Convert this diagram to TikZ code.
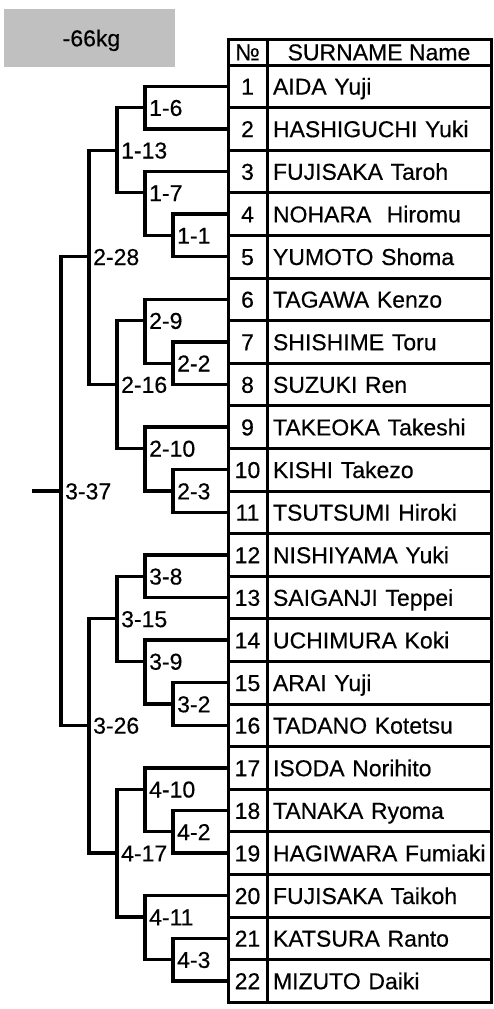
\documentclass[tikz,border=0pt]{standalone}
\usepackage{fontspec}
\setmainfont[UprightFeatures={FakeBold=0.4}]{Liberation Sans}
\definecolor{boxgray}{HTML}{C0C0C0}
\begin{document}
\begin{tikzpicture}[x=1pt,y=-1pt,
  font=\fontsize{23}{25}\selectfont,
  ln/.style={line width=3.3pt},
  cellbox/.style={draw,line width=3pt,inner sep=0pt,outer sep=0pt,text height=16.6pt,text depth=0pt},
  numcell/.style={cellbox,minimum width=39pt,minimum height=42.6pt},
  namecell/.style={cellbox,minimum width=224pt,minimum height=42.6pt,text width=212pt,inner xsep=6pt,align=left},
  lbl/.style={anchor=west,inner xsep=4pt,inner ysep=0pt,text height=16.6pt,text depth=0pt}]
\useasboundingbox (0,0) rectangle (494,1009);
\node[fill=boxgray,minimum width=171pt,minimum height=58pt,inner sep=0pt,text height=16.6pt,text depth=0pt] (title) at (89.5,38) {\hspace{4pt}-66kg};
\begin{scope}[y=-21.3pt,yshift=-65pt]
  % header
  \node[cellbox,minimum width=39pt,minimum height=26pt] (hno) at (247.5,-0.61) {№};
  \node[cellbox,minimum width=224pt,minimum height=26pt] (hname) at (379,-0.61) {SURNAME Name};
  % rows
  \foreach \nm [count=\i] in {AIDA Yuji,HASHIGUCHI Yuki,FUJISAKA Taroh,NOHARA\ \ Hiromu,YUMOTO Shoma,TAGAWA Kenzo,SHISHIME Toru,SUZUKI Ren,TAKEOKA Takeshi,KISHI Takezo,TSUTSUMI Hiroki,NISHIYAMA Yuki,SAIGANJI Teppei,UCHIMURA Koki,ARAI Yuji,TADANO Kotetsu,ISODA Norihito,TANAKA Ryoma,HAGIWARA Fumiaki,FUJISAKA Taikoh,KATSURA Ranto,MIZUTO Daiki}{
    \node[numcell] (n\i) at (247.5,{2*\i-1}) {\i};
    \node[namecell] (r\i) at (379,{2*\i-1}) {\mbox{\nm}};
  }
  % match coordinates
  \coordinate (c16) at (145,2);
  \coordinate (c11) at (173,8);
  \coordinate (c17) at (145,6);
  \coordinate (c113) at (117,4);
  \coordinate (c22) at (173,14);
  \coordinate (c29) at (145,12);
  \coordinate (c23) at (173,20);
  \coordinate (c210) at (145,18);
  \coordinate (c216) at (117,15);
  \coordinate (c228) at (89,9);
  \coordinate (c38) at (145,24);
  \coordinate (c32) at (173,30);
  \coordinate (c39) at (145,28);
  \coordinate (c315) at (117,26);
  \coordinate (c42) at (173,36);
  \coordinate (c410) at (145,34);
  \coordinate (c43) at (173,42);
  \coordinate (c411) at (145,40);
  \coordinate (c417) at (117,37);
  \coordinate (c326) at (89,31);
  \coordinate (c337) at (61,20);
  \coordinate (start) at (32,20);
  % brackets
  \draw[ln] (n1.west) -| (c16) |- (n2.west);
  \draw[ln] (n4.west) -| (c11) |- (n5.west);
  \draw[ln] (n3.west) -| (c17) |- (c11);
  \draw[ln] (c16) -| (c113) |- (c17);
  \draw[ln] (n7.west) -| (c22) |- (n8.west);
  \draw[ln] (n6.west) -| (c29) |- (c22);
  \draw[ln] (n10.west) -| (c23) |- (n11.west);
  \draw[ln] (n9.west) -| (c210) |- (c23);
  \draw[ln] (c29) -| (c216) |- (c210);
  \draw[ln] (c113) -| (c228) |- (c216);
  \draw[ln] (n12.west) -| (c38) |- (n13.west);
  \draw[ln] (n15.west) -| (c32) |- (n16.west);
  \draw[ln] (n14.west) -| (c39) |- (c32);
  \draw[ln] (c38) -| (c315) |- (c39);
  \draw[ln] (n18.west) -| (c42) |- (n19.west);
  \draw[ln] (n17.west) -| (c410) |- (c42);
  \draw[ln] (n21.west) -| (c43) |- (n22.west);
  \draw[ln] (n20.west) -| (c411) |- (c43);
  \draw[ln] (c410) -| (c417) |- (c411);
  \draw[ln] (c315) -| (c326) |- (c417);
  \draw[ln] (c228) -| (c337) |- (c326);
  \draw[ln] (start) -- (c337);
  % labels
  \node[lbl] (l16) at (c16) {1-6};
  \node[lbl] (l11) at (c11) {1-1};
  \node[lbl] (l17) at (c17) {1-7};
  \node[lbl] (l113) at (c113) {1-13};
  \node[lbl] (l22) at (c22) {2-2};
  \node[lbl] (l29) at (c29) {2-9};
  \node[lbl] (l23) at (c23) {2-3};
  \node[lbl] (l210) at (c210) {2-10};
  \node[lbl] (l216) at (c216) {2-16};
  \node[lbl] (l228) at (c228) {2-28};
  \node[lbl] (l38) at (c38) {3-8};
  \node[lbl] (l32) at (c32) {3-2};
  \node[lbl] (l39) at (c39) {3-9};
  \node[lbl] (l315) at (c315) {3-15};
  \node[lbl] (l42) at (c42) {4-2};
  \node[lbl] (l410) at (c410) {4-10};
  \node[lbl] (l43) at (c43) {4-3};
  \node[lbl] (l411) at (c411) {4-11};
  \node[lbl] (l417) at (c417) {4-17};
  \node[lbl] (l326) at (c326) {3-26};
  \node[lbl] (l337) at (c337) {3-37};
\end{scope}
\end{tikzpicture}
\end{document}
